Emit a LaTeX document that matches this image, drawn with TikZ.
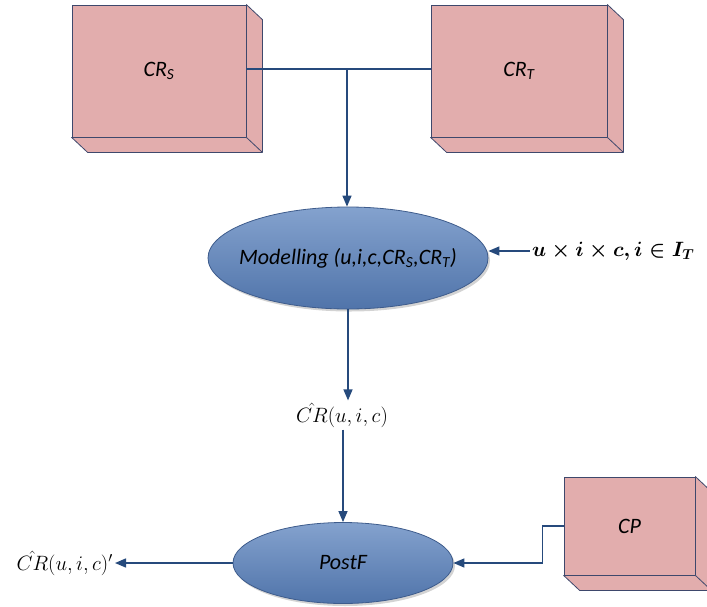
\documentclass[tikz,border=0pt]{standalone}
\usepackage{fontspec}
\setmainfont{Carlito}
\usetikzlibrary{arrows.meta,calc,shapes.geometric,shadows}

\definecolor{boxpink}{RGB}{226,173,173}
\definecolor{boxedge}{RGB}{62,72,108}
\definecolor{ellTop}{RGB}{132,162,206}
\definecolor{ellBot}{RGB}{80,116,170}
\definecolor{ellEdge}{RGB}{62,92,140}
\definecolor{wire}{RGB}{38,74,124}

\tikzset{
  cubeface/.style={rectangle, fill=boxpink, draw=boxedge, line width=0.8pt,
    font=\itshape\fontsize{22}{24}\selectfont},
  blob/.style={ellipse, top color=ellTop, bottom color=ellBot, draw=ellEdge,
    line width=0.8pt, inner xsep=-45pt, inner ysep=0pt,
    drop shadow={shadow xshift=2pt, shadow yshift=-2.5pt, opacity=0.35},
    font=\itshape\fontsize{22}{24}\selectfont},
  wireline/.style={draw=wire, line width=1.4pt},
  flow/.style={wireline, -{Triangle[length=11pt,width=9pt]}},
  mathlabel/.style={inner sep=2pt, text=black},
}

% side and bottom faces of a box drawn in oblique perspective
\newcommand\cubesides[1]{%
  \draw[fill=boxpink, draw=boxedge, line width=0.8pt, line join=round]
    (#1.north east) -- ++(16,15) -- ($(#1.south east)+(16,15)$)
    -- ($(#1.south west)+(16,15)$) -- (#1.south west)
    -- (#1.south east) -- cycle;
  \draw[draw=boxedge, line width=0.8pt] (#1.south east) -- ++(16,15);
}

\begin{document}
\begin{tikzpicture}[x=1pt, y=-1pt]
  \useasboundingbox (0,0) rectangle (707,606);

  % data sources
  \node[cubeface, minimum width=174pt, minimum height=132pt] (crs) at (159,71) {CR\textsubscript{S}};
  \node[cubeface, minimum width=176pt, minimum height=132pt] (crt) at (519,71) {CR\textsubscript{T}};
  \node[cubeface, minimum width=131pt, minimum height=98pt] (cp) at (629.5,526) {CP};
  \cubesides{crs}
  \cubesides{crt}
  \cubesides{cp}

  % processing steps
  \node[blob, minimum width=280pt, minimum height=102pt] (model) at (348,258)
    {Modelling (u,i,c,CR\textsubscript{S},CR\textsubscript{T})};
  \node[blob, minimum width=220pt, minimum height=81pt, inner xsep=0pt] (postf) at (343,563) {PostF};

  % labels
  \node[mathlabel, font=\fontsize{22}{24}\selectfont] (crhat) at (342,415) {$\hat{CR}(u,i,c)$};
  \node[mathlabel, anchor=west, font=\fontsize{21}{23}\selectfont\boldmath] (inp) at (530,251)
    {$u\times i\times c, i\in I_T$};
  \node[mathlabel, anchor=east, font=\fontsize{21.5}{23}\selectfont] (out) at (115,563) {$\hat{CR}(u,i,c)'$};

  % connectors
  \coordinate (j) at (347,69);
  \draw[wireline] (crs.east |- j) -- (crt.west |- j);
  \draw[flow] (j) -- (j |- model.north);
  \draw[flow] (inp.west) -- (inp.west -| model.east);
  \draw[flow] (model.south) -- (model.south |- crhat.north);
  \draw[flow] (crhat.south -| postf.north) -- (postf.north);
  \draw[flow] (cp.west) -- ++(-21,0) |- (postf.east);
  \draw[flow] (postf.west) -- (out.east);
\end{tikzpicture}
\end{document}
